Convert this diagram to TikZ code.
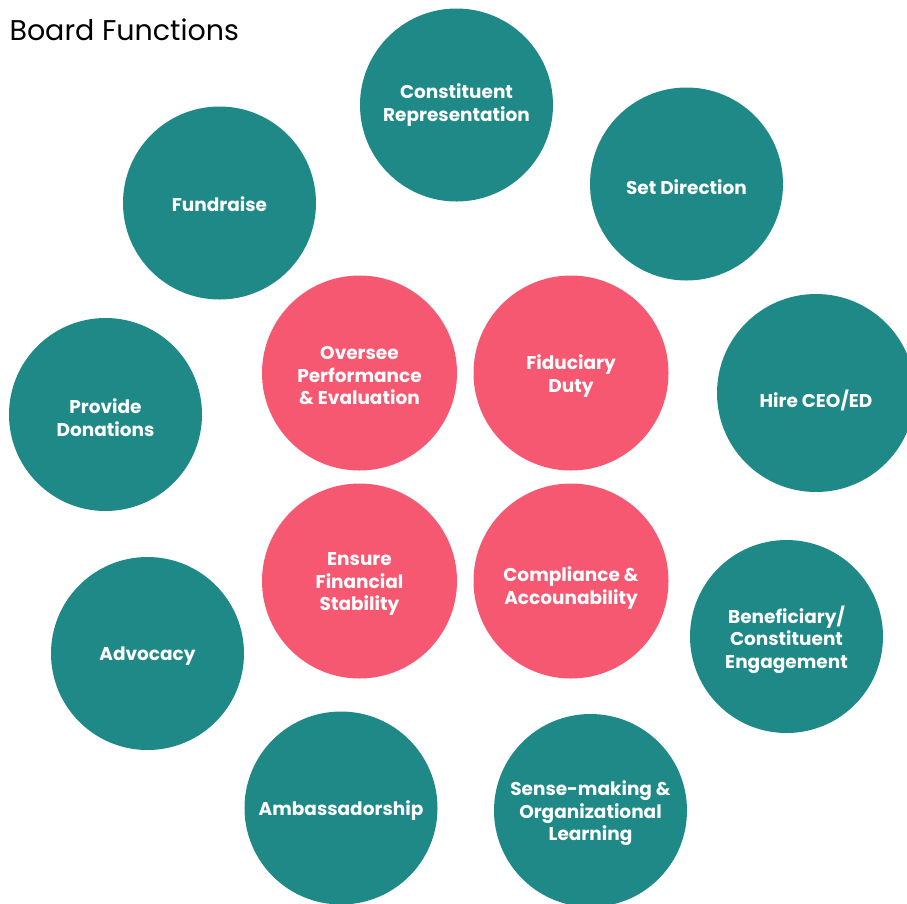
\documentclass[tikz,border=0pt]{standalone}
\usepackage{fontspec}
\setmainfont{Poppins}
\definecolor{teal1}{RGB}{30,137,135}
\definecolor{pink1}{RGB}{247,88,113}
\tikzset{
  func/.style={circle,fill=teal1,minimum size=193pt,inner sep=0pt},
  duty/.style={func,fill=pink1,minimum size=195pt},
  txt/.style={text=white,font=\fontsize{18.5}{22.5}\selectfont\bfseries,
    align=center,inner sep=0pt,yshift=-3pt}
}
\begin{document}
\begin{tikzpicture}[x=1pt,y=-1pt]
 \useasboundingbox (0,0) rectangle (907,903);
 \clip (0,0) rectangle (907,903);

 \node[anchor=west,font=\fontsize{28.5}{32}\selectfont] (title) at (6,30) {Board Functions};

 % outer ring
 \node[func,label={[txt,yshift=3pt]center:{Constituent\\Representation}}] (rep) at (456.5,105) {};
 \node[func,label={[txt]center:Set Direction}] (dir) at (686.5,184) {};
 \node[func,label={[txt,yshift=2pt]center:Fundraise}] (fund) at (219.5,203) {};
 \node[func,label={[txt]center:{Provide\\Donations}}] (don) at (105.5,414.5) {};
 \node[func,minimum size=198pt,label={[txt,yshift=-4pt]center:Hire CEO/ED}] (hire) at (816,393) {};
 \node[func,label={[txt]center:Advocacy}] (adv) at (147.5,653.5) {};
 \node[func,label={[txt]center:{Beneficiary/\\Constituent\\Engagement}}] (eng) at (786.5,636.5) {};
 \node[func,label={[txt]center:Ambassadorship}] (amb) at (341,808) {};
 \node[func,label={[txt]center:{Sense-making \&\\Organizational\\Learning}}] (learn) at (590.5,810.5) {};

 % inner four
 \node[duty,label={[txt]center:{Oversee\\Performance\\\& Evaluation}}] (perf) at (359.5,373) {};
 \node[duty,label={[txt]center:{Fiduciary\\Duty}}] (fid) at (571,373) {};
 \node[duty,label={[txt]center:{Ensure\\Financial\\Stability}}] (fin) at (359.5,581) {};
 \node[duty,label={[txt,yshift=-4pt]center:{Compliance \&\\Accounability}}] (comp) at (571,581) {};
\end{tikzpicture}
\end{document}
